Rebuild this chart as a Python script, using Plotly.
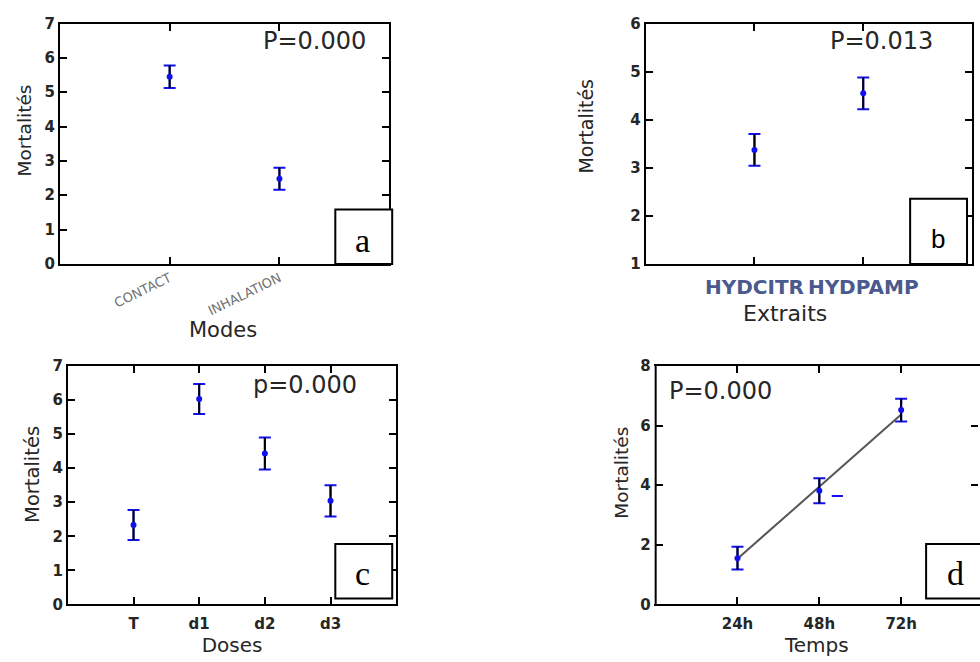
import plotly.graph_objects as go

# ---------------- data ----------------
modes = ["CONTACT", "INHALATION"]
modes_mean = [5.45, 2.48]
modes_err = [0.33, 0.32]

extraits = ["HYDCITR", "HYDPAMP"]
extraits_mean = [3.37, 4.55]
extraits_err = [0.33, 0.33]

doses = ["T", "d1", "d2", "d3"]
doses_mean = [2.33, 6.03, 4.43, 3.04]
doses_err = [0.44, 0.44, 0.47, 0.46]

temps = ["24h", "48h", "72h"]
temps_mean = [1.55, 3.81, 6.52]
temps_err = [0.38, 0.42, 0.38]
trend_x = ["24h", "72h"]
trend_y = [1.53, 6.37]
stray_x = [2.22]
stray_y = [3.64]

W, H = 980, 662
FONT = "DejaVu Sans"
BLUE = "#1010f0"
TXT = "#262626"

fig = go.Figure()


def px_x(v):
    return v / W


def px_y(v):
    return 1 - v / H


def add_panel(idx, cats, mean, err):
    xs = [i + 1 for i in range(len(cats))]
    xa = "x" if idx == 1 else f"x{idx}"
    ya = "y" if idx == 1 else f"y{idx}"
    # blue caps
    fig.add_trace(go.Scatter(x=xs, y=mean, mode="markers", xaxis=xa, yaxis=ya,
                             marker=dict(size=1, color=BLUE, opacity=0),
                             error_y=dict(type="data", array=err, color=BLUE,
                                          thickness=2, width=6),
                             showlegend=False, hoverinfo="skip"))
    # black stems
    fig.add_trace(go.Scatter(x=xs, y=mean, mode="markers", xaxis=xa, yaxis=ya,
                             marker=dict(size=1, color="black", opacity=0),
                             error_y=dict(type="data", array=err, color="black",
                                          thickness=2, width=0),
                             showlegend=False, hoverinfo="skip"))
    return xs, xa, ya


def add_points(xs, mean, xa, ya):
    fig.add_trace(go.Scatter(x=xs, y=mean, mode="markers", xaxis=xa, yaxis=ya,
                             marker=dict(size=6, color=BLUE),
                             showlegend=False))


xs_a, xa_a, ya_a = add_panel(1, modes, modes_mean, modes_err)
add_points(xs_a, modes_mean, xa_a, ya_a)
xs_b, xa_b, ya_b = add_panel(2, extraits, extraits_mean, extraits_err)
add_points(xs_b, extraits_mean, xa_b, ya_b)
xs_c, xa_c, ya_c = add_panel(3, doses, doses_mean, doses_err)
add_points(xs_c, doses_mean, xa_c, ya_c)
tx = [temps.index(t) + 1 for t in trend_x]
fig.add_trace(go.Scatter(x=tx, y=trend_y, mode="lines", xaxis="x4", yaxis="y4",
                         line=dict(color="#555555", width=2),
                         showlegend=False, hoverinfo="skip"))
xs_d, xa_d, ya_d = add_panel(4, temps, temps_mean, temps_err)
add_points(xs_d, temps_mean, xa_d, ya_d)
fig.add_trace(go.Scatter(x=stray_x, y=stray_y, mode="markers", xaxis="x4", yaxis="y4",
                         marker=dict(symbol="line-ew", size=8, color=BLUE,
                                     line=dict(color=BLUE, width=2)),
                         showlegend=False, hoverinfo="skip"))

axis_common = dict(showline=True, linecolor="black", linewidth=2, mirror="ticks",
                   ticks="inside", ticklen=7, tickwidth=2, tickcolor="black",
                   showgrid=False, zeroline=False, fixedrange=True)

ytick_font = dict(family=FONT, size=15, color=TXT, weight="bold")

dom = {
    1: ([px_x(60), px_x(390)], [px_y(262), px_y(15)]),
    2: ([px_x(647), px_x(974)], [px_y(262), px_y(15)]),
    3: ([px_x(68), px_x(397)], [px_y(612), px_y(367)]),
    4: ([px_x(657), 1.0], [px_y(612), px_y(367)]),
}

layout = dict(width=W, height=H, margin=dict(l=0, r=0, t=0, b=0),
              paper_bgcolor="white", plot_bgcolor="white",
              font=dict(family=FONT, color=TXT))

layout["xaxis"] = dict(axis_common, domain=dom[1][0], anchor="y", range=[0, 3],
                       tickvals=xs_a, ticktext=modes, tickangle=-26,
                       tickfont=dict(family=FONT, size=13, color="#707070"))
layout["yaxis"] = dict(axis_common, domain=dom[1][1], anchor="x", range=[0, 7],
                       dtick=1, tickfont=ytick_font)
layout["xaxis2"] = dict(axis_common, domain=dom[2][0], anchor="y2", range=[0, 3],
                        tickvals=xs_b, ticktext=extraits, tickangle=0,
                        ticklabelstandoff=4,
                        tickfont=dict(family=FONT, size=20, color="#4a5a8e", weight="bold"))
layout["yaxis2"] = dict(axis_common, domain=dom[2][1], anchor="x2", range=[1, 6],
                        dtick=1, tickfont=ytick_font)
layout["xaxis3"] = dict(axis_common, domain=dom[3][0], anchor="y3", range=[0, 5],
                        tickvals=xs_c, ticktext=doses, tickangle=0,
                        ticklabelstandoff=5,
                        tickfont=dict(family=FONT, size=15, color=TXT, weight="bold"),
                        title=dict(text="Doses", standoff=3,
                                   font=dict(family=FONT, size=20, color=TXT)))
layout["yaxis3"] = dict(axis_common, domain=dom[3][1], anchor="x3", range=[0, 7],
                        dtick=1, tickfont=ytick_font)
layout["xaxis4"] = dict(axis_common, domain=dom[4][0], anchor="y4",
                        range=[0, (980 - 657) / 82.0],
                        tickvals=xs_d, ticktext=temps, tickangle=0,
                        ticklabelstandoff=5,
                        tickfont=dict(family=FONT, size=15, color=TXT, weight="bold"),
                        title=dict(text="Temps", standoff=2,
                                   font=dict(family=FONT, size=20, color=TXT)))
layout["yaxis4"] = dict(axis_common, domain=dom[4][1], anchor="x4", range=[0, 8],
                        dtick=2, tickfont=ytick_font, linecolor="rgba(0,0,0,0)")

fig.update_layout(**layout)

ann = []


def text(xp, yp, s, size, family=FONT, color=TXT, angle=0):
    ann.append(dict(x=px_x(xp), y=px_y(yp), xref="paper", yref="paper", text=s,
                    showarrow=False, xanchor="center", yanchor="middle",
                    font=dict(family=family, size=size, color=color), textangle=angle))


text(315, 33, "P=0.000", 24)
text(883, 33, "P=0.013", 24)
text(306, 386, "p=0.000", 24)
text(722, 393, "P=0.000", 24)
text(25, 125, "Mortalités", 18.5, angle=-90)
text(587, 120, "Mortalités", 19, angle=-90)
text(32, 478, "Mortalités", 19.5, angle=-90)
text(622, 477, "Mortalités", 18.5, angle=-90)
text(223, 330, "Modes", 21)
text(787, 313, "Extraits", 22)

shapes = [
    # left frame line of panel d (right side is cut by the window)
    dict(type="line", xref="paper", yref="paper", x0=px_x(657), x1=px_x(657),
         y0=px_y(613), y1=px_y(366), line=dict(color="black", width=2)),
]
boxes = [
    (336, 393, 206, 262, "a", "Liberation Serif", 34, 363, 238),
    (912, 969, 195, 262, "b", "Liberation Sans", 26, 940, 236),
    (336, 393, 550, 606, "c", "Liberation Serif", 34, 363, 580),
    (928, 1000, 550, 606, "d", "Liberation Serif", 34, 957, 580),
]
for x0, x1, y0, y1, lab, fam, sz, cx, cy in boxes:
    shapes.append(dict(type="rect", xref="paper", yref="paper",
                       x0=px_x(x0), x1=px_x(x1), y0=px_y(y1), y1=px_y(y0),
                       line=dict(color="black", width=2), fillcolor="white", layer="above"))
    text(cx, cy, lab, sz, family=fam, color="black")

fig.update_layout(annotations=ann, shapes=shapes)
fig.write_html("out.html")
